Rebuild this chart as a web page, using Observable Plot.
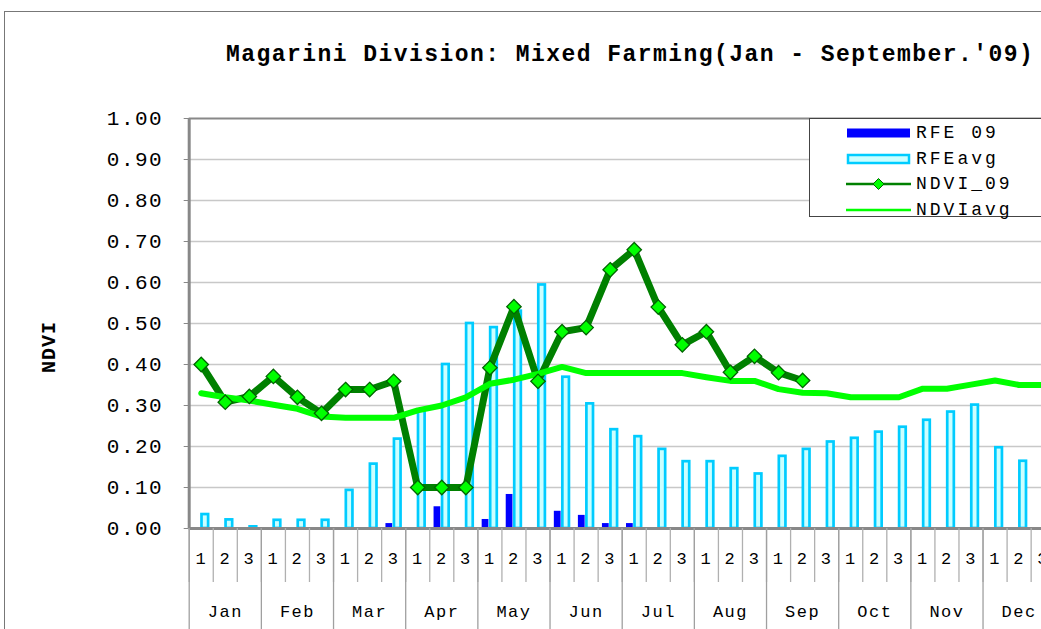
<!DOCTYPE html>
<html>
<head>
<meta charset="utf-8">
<script src="https://cdn.jsdelivr.net/npm/d3@7"></script>
<script src="https://cdn.jsdelivr.net/npm/@observablehq/plot@0.6"></script>
<style>
html, body { margin: 0; padding: 0; overflow: hidden; background: #fff; width: 1041px; height: 629px; }
#wrap { position: relative; width: 1041px; height: 629px; overflow: hidden; }
#frame { position: absolute; left: 4px; top: 11px; width: 1100px; height: 700px; border-left: 1.5px solid #777; border-top: 1.5px solid #777; }
#chart { position: absolute; left: 0; top: 0; }
#chart svg { max-width: none !important; }
#title { position: absolute; left: 226px; top: 44px; font: bold 23px "Liberation Mono", monospace; letter-spacing: 1.45px; white-space: nowrap; color: #000; line-height: 1; }
#ylabel { position: absolute; left: 50px; top: 347px; transform: translate(-50%, -50%) rotate(-90deg); font: bold 20px "Liberation Mono", monospace; letter-spacing: 1px; white-space: nowrap; line-height: 1; }
#legend { position: absolute; left: 809px; top: 118px; width: 300px; height: 99px; border: 1px solid #444; background: #fff; box-sizing: border-box; }
.lrow { position: absolute; left: 36px; height: 24px; display: flex; align-items: center; }
.lrow span { font: 18px "Liberation Mono", monospace; letter-spacing: 3px; margin-left: 5px; white-space: nowrap; }
</style>
</head>
<body>
<div id="wrap">
  <div id="frame"></div>
  <div id="chart"></div>
  <div id="title"></div>
  <div id="ylabel"></div>
  <div id="legend"></div>
</div>
<script>
// ---- data ----
const titleText = "Magarini Division: Mixed Farming(Jan - September.'09)";
const yLabel = "NDVI";
const months = ["Jan","Feb","Mar","Apr","May","Jun","Jul","Aug","Sep","Oct","Nov","Dec"];
const dekadLabels = ["1","2","3"];
const seriesNames = ["RFE 09","RFEavg","NDVI_09","NDVIavg"];
const yTicks = [0,0.1,0.2,0.3,0.4,0.5,0.6,0.7,0.8,0.9,1.0];

const rfe09 = [0,0,0, 0,0,0, 0,0,0.012, 0,0.053,0, 0.022,0.083,0, 0.042,0.032,0.012,
               0.012,0,0, 0,0,0, 0,0,0, null,null,null, null,null,null, null,null,null];
const rfeAvg = [0.034,0.021,0.004, 0.020,0.020,0.020, 0.093,0.157,0.218, 0.288,0.400,0.500,
                0.490,0.530,0.594, 0.369,0.304,0.241, 0.224,0.193,0.163, 0.163,0.146,0.133,
                0.176,0.193,0.211, 0.220,0.235,0.247, 0.264,0.284,0.301, 0.197,0.164,0.140];
const ndvi09 = [0.400,0.308,0.322, 0.371,0.320,0.281, 0.339,0.339,0.359, 0.100,0.100,0.100,
                0.392,0.541,0.359, 0.480,0.490,0.631, 0.680,0.540,0.448, 0.480,0.381,0.420,
                0.380,0.361,null, null,null,null, null,null,null, null,null,null];
const ndviAvg = [0.330,0.320,0.312, 0.302,0.292,0.273, 0.270,0.270,0.270, 0.288,0.300,0.320,
                 0.353,0.363,0.377, 0.394,0.379,0.379, 0.379,0.379,0.379, 0.369,0.360,0.360,
                 0.340,0.331,0.330, 0.320,0.320,0.320, 0.341,0.341,0.351, 0.361,0.350,0.350];

// ---- table ----
const rows = d3.range(36).map(i => ({
  i, month: months[Math.floor(i / 3)], dekad: dekadLabels[i % 3],
  rfe09: rfe09[i], rfeAvg: rfeAvg[i], ndvi09: ndvi09[i], ndviAvg: ndviAvg[i]
}));
const ndviRows = rows.filter(d => d.ndvi09 != null);

const chart = Plot.plot({
  width: 1060, height: 629,
  marginLeft: 188.7, marginRight: 5.3, marginTop: 118, marginBottom: 101,
  x: {domain: [0, 36], label: null},
  y: {domain: [0, 1], label: null},
  style: {fontFamily: "Liberation Mono, monospace", fontSize: "17px", color: "#000", background: "transparent", overflow: "visible", maxWidth: "none", letterSpacing: "1.5px"},
  marks: [
    Plot.gridY(yTicks.slice(1, -1), {stroke: "#c8c8c8", strokeOpacity: 1, strokeWidth: 1.3}),
    Plot.rect(rows.filter(d => d.rfe09 != null), {x1: "i", x2: d => d.i + 1, y1: 0, y2: "rfe09", fill: "#0000ff", insetLeft: 4.3, insetRight: 13}),
    Plot.rect(rows, {x1: "i", x2: d => d.i + 1, y1: 0, y2: "rfeAvg", fill: "#ccffff", stroke: "#00ccff", strokeWidth: 2.7, insetLeft: 12.8, insetRight: 4.65}),
    Plot.line(ndviRows, {x: d => d.i + 0.5, y: "ndvi09", stroke: "#008000", strokeWidth: 7, strokeLinejoin: "round"}),
    Plot.line(rows, {x: d => d.i + 0.5, y: "ndviAvg", stroke: "#00ff00", strokeWidth: 6, strokeLinejoin: "round"}),
    Plot.dot(ndviRows, {x: d => d.i + 0.5, y: "ndvi09", symbol: "diamond2", r: 6.5, fill: "#00ff00", stroke: "#006400", strokeWidth: 1.3}),
    Plot.ruleY([1], {stroke: "#888", strokeWidth: 2}),
    Plot.ruleY([0], {stroke: "#888", strokeWidth: 3}),
    Plot.ruleX([0], {stroke: "#888", strokeWidth: 3}),
    Plot.axisY({ticks: yTicks, tickSize: 5, tickPadding: 21, tickFormat: d3.format(".2f"), fontSize: 21, stroke: "#888", label: null}),
    Plot.axisX({ticks: d3.range(37), tickSize: 54, tickFormat: () => "", stroke: "#b0b0b0", strokeWidth: 1.3, label: null}),
    Plot.axisX({ticks: d3.range(0, 37, 3), tickSize: 101, tickFormat: () => "", stroke: "#a0a0a0", strokeWidth: 1.3, label: null}),
    Plot.axisX({ticks: d3.range(36).map(i => i + 0.5), tickSize: 0, tickPadding: 23, tickFormat: v => rows[Math.floor(v)].dekad, fontSize: 17, label: null}),
    Plot.axisX({ticks: d3.range(12).map(k => 3 * k + 1.5), tickSize: 0, tickPadding: 76, tickFormat: v => months[Math.floor(v / 3)], fontSize: 17, label: null})
  ]
});
document.getElementById("chart").append(chart);
document.getElementById("title").textContent = titleText;
document.getElementById("ylabel").textContent = yLabel;

// ---- legend ----
const legend = document.getElementById("legend");
const rowCenters = [13.5, 39.5, 64.7, 91];
const swatches = [
  `<rect x="1" y="7.5" width="63" height="9" fill="#0000ff"/>`,
  `<rect x="2" y="8" width="61" height="8" fill="#ccffff" stroke="#00ccff" stroke-width="2.5"/>`,
  `<line x1="0" x2="65" y1="12" y2="12" stroke="#008000" stroke-width="2.5"/><path d="M32.5 6.5 L38 12 L32.5 17.5 L27 12 Z" fill="#00ff00" stroke="#006400" stroke-width="1"/>`,
  `<line x1="0" x2="65" y1="12" y2="12" stroke="#00ff00" stroke-width="2.5"/>`
];
seriesNames.forEach((name, k) => {
  const div = document.createElement("div");
  div.className = "lrow";
  div.style.top = (rowCenters[k] - 12) + "px";
  div.innerHTML = `<svg width="65" height="24">${swatches[k]}</svg><span>${name}</span>`;
  legend.append(div);
});
</script>
</body>
</html>
